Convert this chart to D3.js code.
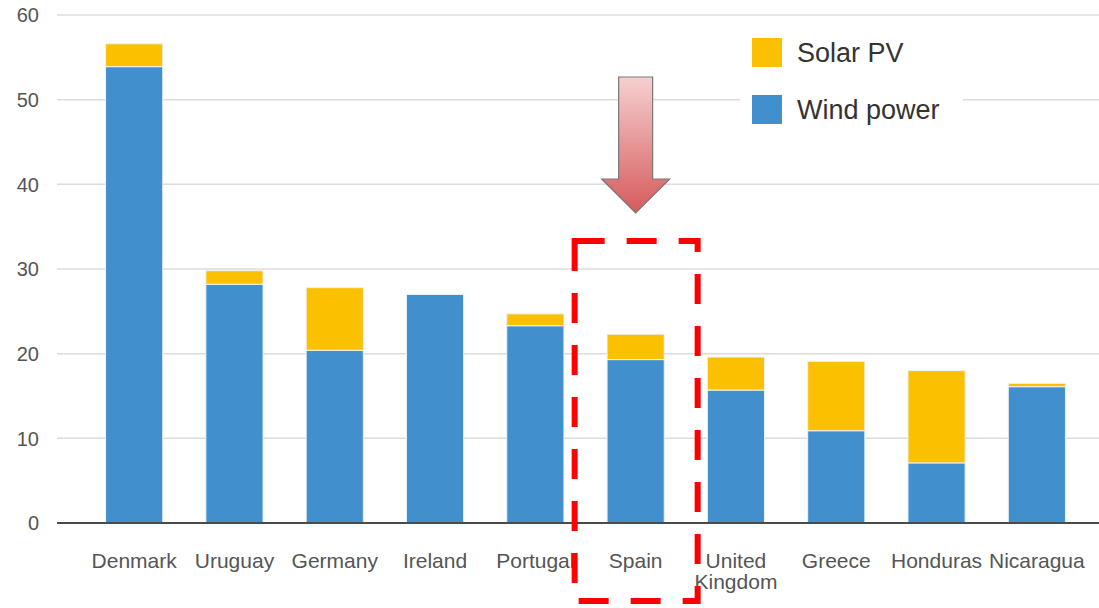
<!DOCTYPE html>
<html>
<head>
<meta charset="utf-8">
<script src="https://cdn.jsdelivr.net/npm/d3@7"></script>
<style>
  body { margin: 0; background: #fff; }
  svg { display: block; font-family: "Liberation Sans", Arial, sans-serif; }
</style>
</head>
<body>
<svg id="chart" width="1099" height="608"></svg>
<script>
// data
var countries = ["Denmark", "Uruguay", "Germany", "Ireland", "Portugal", "Spain", "United Kingdom", "Greece", "Honduras", "Nicaragua"];
var wind  = [53.9, 28.2, 20.4, 27.0, 23.3, 19.3, 15.7, 10.9, 7.1, 16.1];
var solar = [2.7, 1.6, 7.4, 0, 1.4, 3.0, 3.9, 8.2, 10.9, 0.4];
var yTicks = [0, 10, 20, 30, 40, 50, 60];
var seriesNames = ["Solar PV", "Wind power"];
var colors = {"Solar PV": "#fbc000", "Wind power": "#418fcd"};

var svg = d3.select("#chart");

var x = d3.scaleBand().domain(countries).range([84, 1087]).paddingInner(0.43).paddingOuter(0.215);
var y = d3.scaleLinear().domain([0, 60]).range([523, 15]);

// gridlines
svg.append("g").selectAll("line")
  .data(yTicks.filter(function(d) { return d > 0; }))
  .enter().append("line")
    .attr("x1", 57).attr("x2", 1099)
    .attr("y1", function(d) { return y(d); })
    .attr("y2", function(d) { return y(d); })
    .attr("stroke", "#dcdcdc")
    .attr("stroke-width", 1.5);

// y labels
svg.append("g").selectAll("text")
  .data(yTicks)
  .enter().append("text")
    .attr("x", 39)
    .attr("y", function(d) { return y(d); })
    .attr("dy", "0.36em")
    .attr("text-anchor", "end")
    .attr("fill", "#555")
    .style("font-size", "20px")
    .text(function(d) { return d; });

// stacked bars
var rows = countries.map(function(c, i) {
  return {country: c, "Wind power": wind[i], "Solar PV": solar[i]};
});
var stack = d3.stack().keys(["Wind power", "Solar PV"])(rows);

svg.append("g").selectAll("g")
  .data(stack)
  .enter().append("g")
    .attr("fill", function(s) { return colors[s.key]; })
  .selectAll("rect")
  .data(function(s) { return s.filter(function(d) { return d[1] - d[0] > 0; }); })
  .enter().append("rect")
    .attr("x", function(d) { return x(d.data.country); })
    .attr("width", x.bandwidth())
    .attr("y", function(d) { return y(d[1]); })
    .attr("height", function(d) { return y(d[0]) - y(d[1]); })
    .attr("stroke", "#eaf3fa")
    .attr("stroke-width", 1);

// baseline
svg.append("line")
  .attr("x1", 57).attr("x2", 1099)
  .attr("y1", y(0)).attr("y2", y(0))
  .attr("stroke", "#4a4a4a")
  .attr("stroke-width", 2);

// x labels
var xl = svg.append("g").selectAll("text")
  .data(countries)
  .enter().append("text")
    .attr("x", function(d) { return x(d) + x.bandwidth() / 2; })
    .attr("y", 568)
    .attr("text-anchor", "middle")
    .attr("fill", "#555")
    .style("font-size", "21px");
xl.each(function(d) {
  var t = d3.select(this);
  var parts = d === "United Kingdom" ? ["United", "Kingdom"] : [d];
  parts.forEach(function(p, i) {
    t.append("tspan")
      .attr("x", x(d) + x.bandwidth() / 2)
      .attr("dy", i === 0 ? 0 : 21)
      .text(p);
  });
});

// legend
var legend = svg.append("g");
legend.append("rect")
  .attr("x", 740).attr("y", 26).attr("width", 223).attr("height", 112)
  .attr("fill", "#fff");
legend.selectAll("g.item")
  .data(seriesNames)
  .enter().append("g")
    .attr("class", "item")
    .attr("transform", function(d, i) { return "translate(752," + (38 + i * 57) + ")"; })
  .each(function(d) {
    var g = d3.select(this);
    g.append("rect").attr("width", 30).attr("height", 29).attr("fill", colors[d]);
    g.append("text")
      .attr("x", 45).attr("y", 24)
      .attr("fill", "#333")
      .style("font-size", "27px")
      .text(d);
  });

// arrow annotation pointing at Spain
var defs = svg.append("defs");
var grad = defs.append("linearGradient")
  .attr("id", "arrowGrad").attr("x1", 0).attr("y1", 0).attr("x2", 0).attr("y2", 1);
grad.append("stop").attr("offset", "0%").attr("stop-color", "#f6d0d0");
grad.append("stop").attr("offset", "100%").attr("stop-color", "#d65a5c");

var cx = x("Spain") + x.bandwidth() / 2;
svg.append("path")
  .attr("d", "M" + (cx - 17) + ",77 L" + (cx + 17) + ",77 L" + (cx + 17) + ",179 L" + (cx + 34) + ",179 L" +
    cx + ",213 L" + (cx - 34) + ",179 L" + (cx - 17) + ",179 Z")
  .attr("fill", "url(#arrowGrad)")
  .attr("stroke", "#777")
  .attr("stroke-width", 1.2);

// dashed highlight box
svg.append("rect")
  .attr("x", cx - 61).attr("y", 241)
  .attr("width", 123).attr("height", 360)
  .attr("fill", "none")
  .attr("stroke", "#ff0000")
  .attr("stroke-width", 6)
  .attr("stroke-dasharray", "30,22");
</script>
</body>
</html>
